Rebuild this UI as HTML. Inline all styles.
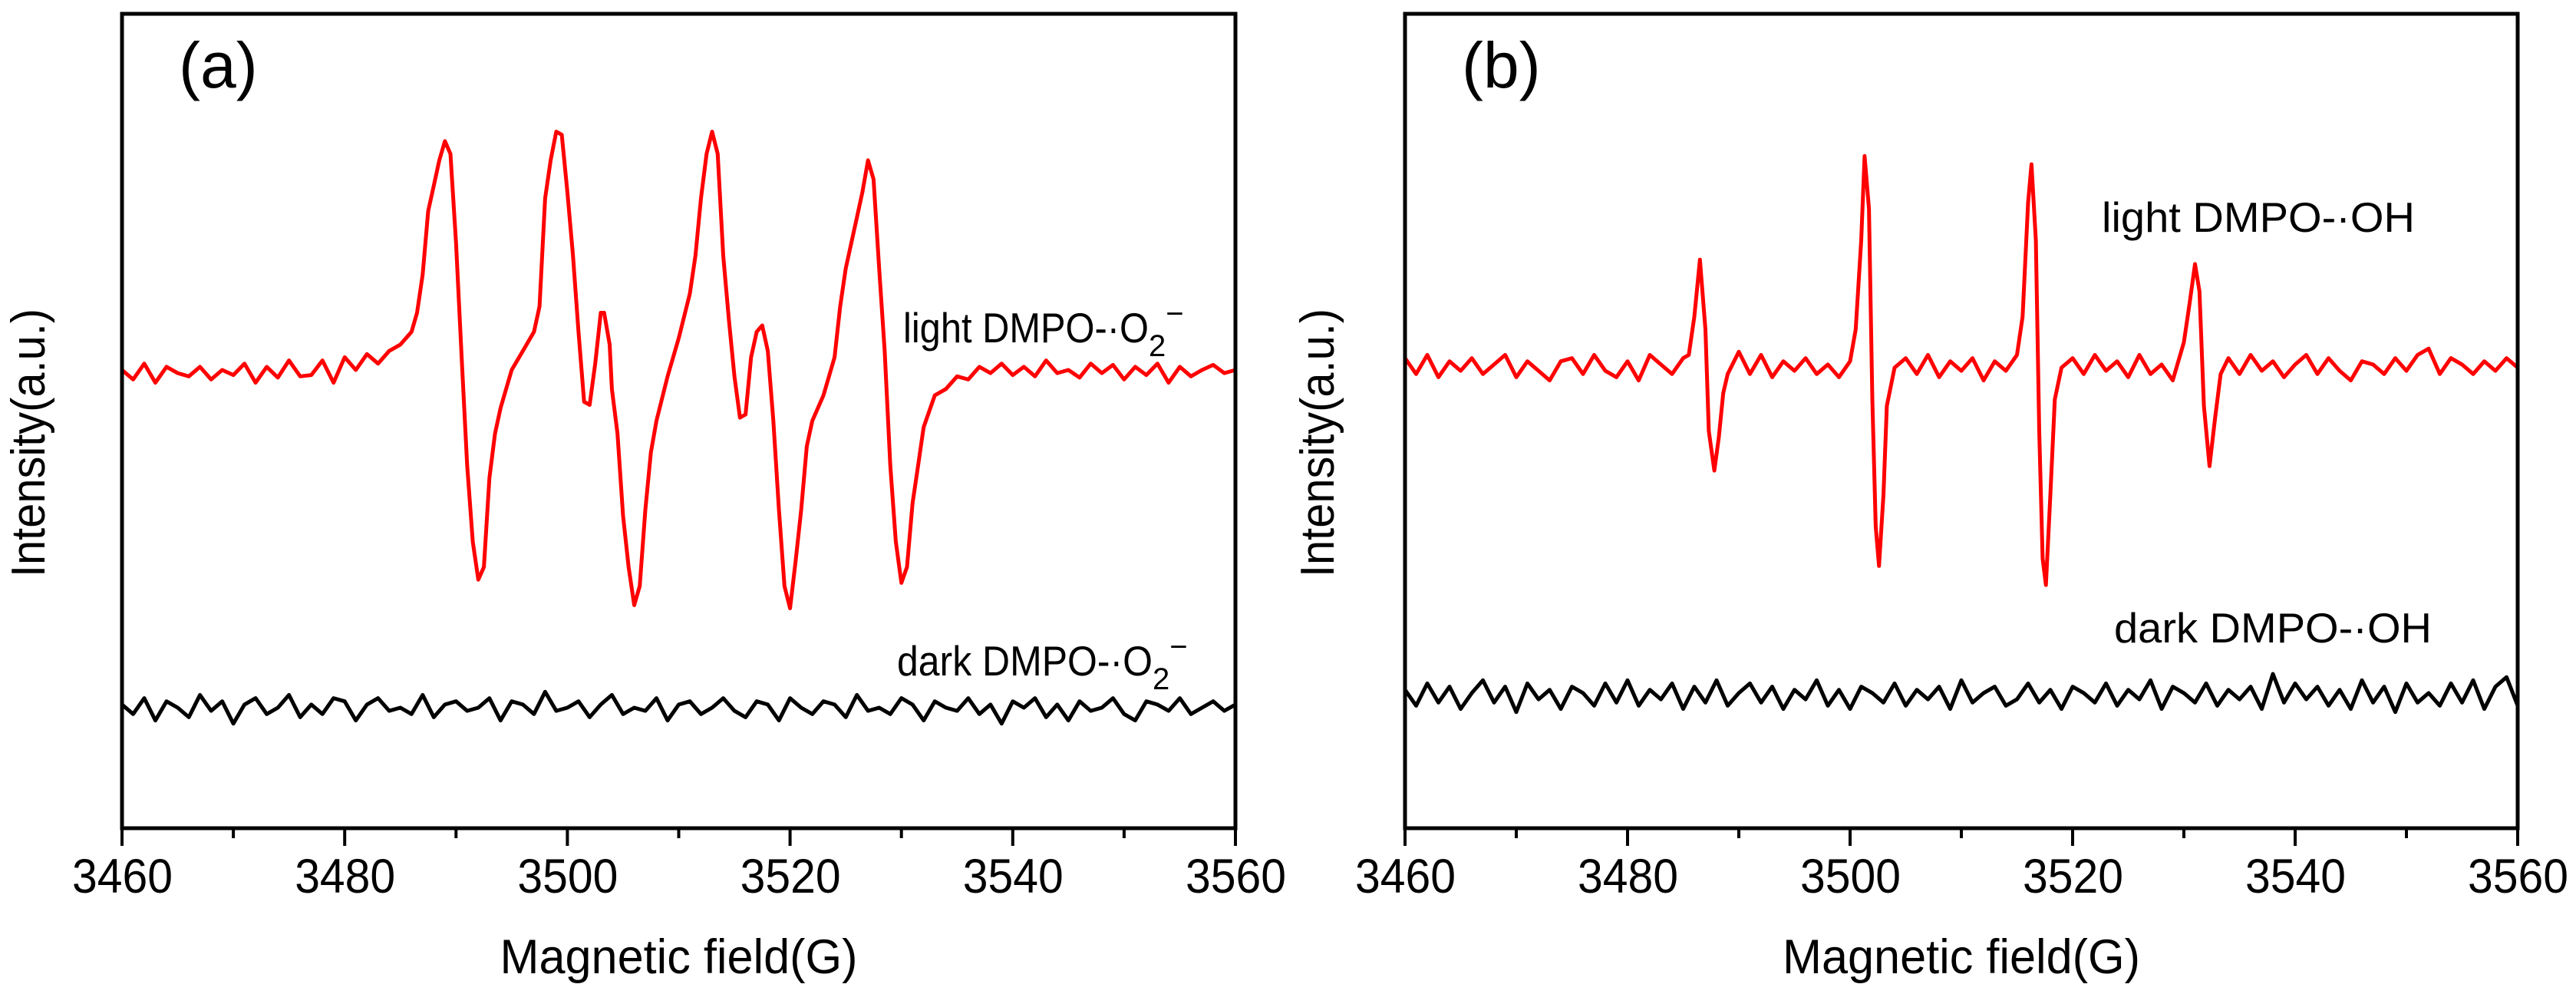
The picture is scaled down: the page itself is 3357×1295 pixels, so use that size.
<!DOCTYPE html>
<html><head><meta charset="utf-8"><style>
html,body{margin:0;padding:0;background:#fff;}
svg{display:block;font-family:"Liberation Sans",sans-serif;}
</style></head><body>
<svg id="fig" width="3357" height="1295" viewBox="0 0 3357 1295" xmlns="http://www.w3.org/2000/svg">
<g id="panelA"></g>
<g id="panelB"></g>
</svg>
<script>
// ---- data (field in G, intensity in arbitrary units) ----
const xTicks = [3460, 3480, 3500, 3520, 3540, 3560];
const xMinor = [3470, 3490, 3510, 3530, 3550];

const lightAField = [3460,3461,3462,3463,3464,3465,3466,3467,3468,3469,3470,3471,3472,3473,3474,3475,3476,3477,3478,3479,3480,3481,3482,3483,3484,3485,3486,3486.5,3487,3487.5,3488,3488.5,3489,3489.5,3490,3490.5,3491,3491.5,3492,3492.5,3493,3493.5,3494,3495,3496,3497,3497.5,3498,3498.5,3499,3499.5,3500,3500.5,3501,3501.5,3502,3502.5,3503,3503.3,3503.8,3504,3504.5,3505,3505.5,3506,3506.5,3507,3507.5,3508,3509,3510,3511,3511.5,3512,3512.5,3513,3513.5,3514,3514.5,3515,3515.5,3516,3516.5,3517,3517.5,3518,3518.5,3519,3519.5,3520,3520.5,3521,3521.5,3522,3523,3524,3524.5,3525,3526,3526.5,3527,3527.5,3528,3528.5,3529,3529.5,3530,3530.5,3531,3531.5,3532,3533,3534,3535,3536,3537,3538,3539,3540,3541,3542,3543,3544,3545,3546,3547,3548,3549,3550,3551,3552,3553,3554,3555,3556,3557,3558,3559,3560];
const lightAValue = [0,-15,10,-20,5,-5,-10,5,-15,0,-8,10,-20,5,-12,15,-10,-8,15,-20,20,0,25,10,30,40,60,90,150,250,290,330,360,340,200,20,-150,-270,-330,-310,-170,-100,-60,0,30,60,100,270,330,375,370,280,180,60,-50,-55,10,90,90,40,-30,-100,-230,-310,-370,-340,-220,-130,-80,-10,50,120,180,270,340,375,340,180,80,-10,-75,-70,20,60,70,30,-80,-220,-340,-375,-300,-220,-120,-80,-40,20,100,160,240,280,330,300,160,30,-150,-270,-335,-310,-210,-150,-90,-40,-30,-10,-15,5,-5,10,-8,5,-10,15,-5,0,-12,10,-5,8,-15,5,-8,10,-20,5,-10,0,8,-5,0];

const darkAValue = [5,-10,15,-20,10,0,-15,20,-5,10,-25,5,15,-10,0,20,-15,5,-10,15,10,-20,5,15,-5,0,-10,20,-15,5,10,-5,0,15,-20,10,5,-10,25,-5,0,10,-15,5,20,-10,0,-5,15,-20,5,10,-10,0,15,-5,-15,10,5,-20,15,0,-10,10,5,-15,20,-5,0,-10,15,5,-20,10,0,-5,15,-10,5,-25,10,0,15,-15,5,-20,10,-5,0,15,-10,-20,10,5,-5,15,-10,0,10,-5,5];

const lightBField = [3460,3461,3462,3463,3464,3465,3466,3467,3468,3469,3470,3471,3472,3473,3474,3475,3476,3477,3478,3479,3480,3481,3482,3483,3484,3485,3485.5,3486,3486.5,3487,3487.3,3487.8,3488.2,3488.6,3489,3490,3491,3492,3493,3494,3495,3496,3497,3498,3499,3500,3500.5,3501,3501.3,3501.7,3502,3502.3,3502.6,3503,3503.3,3504,3505,3506,3507,3508,3509,3510,3511,3512,3513,3514,3515,3515.5,3516,3516.3,3516.7,3517,3517.3,3517.6,3518,3518.4,3519,3520,3521,3522,3523,3524,3525,3526,3527,3528,3529,3530,3530.5,3531,3531.4,3531.8,3532.3,3532.8,3533.3,3534,3535,3536,3537,3538,3539,3540,3541,3542,3543,3544,3545,3546,3547,3548,3549,3550,3551,3552,3553,3554,3555,3556,3557,3558,3559,3560];
const lightBValue = [15,-10,20,-15,10,-5,15,-10,5,20,-15,10,-5,-20,10,15,-10,20,-5,-15,10,-20,20,5,-10,15,20,80,170,60,-100,-162,-110,-40,-10,25,-10,20,-15,10,-5,15,-10,5,-15,10,60,200,333,250,-50,-250,-312,-200,-60,0,15,-10,20,-15,10,-5,15,-20,10,-5,20,80,260,320,200,-100,-300,-342,-200,-50,0,15,-10,20,-5,10,-15,20,-10,5,-20,40,100,163,120,-60,-155,-80,-10,15,-10,20,-5,10,-15,5,20,-10,15,-5,-20,10,5,-10,15,-5,20,30,-10,15,5,-10,10,-5,15,0];

const darkBValue = [10,-15,20,-10,15,-20,5,25,-10,15,-25,20,-5,10,-20,15,5,-15,20,-10,25,-15,10,-5,20,-20,15,-10,25,-15,5,20,-10,15,-20,10,-5,25,-15,10,-20,15,5,-10,20,-15,10,-5,15,-20,25,-10,5,15,-15,-5,20,-10,10,-20,15,5,-10,20,-15,10,-5,25,-20,15,5,-10,20,-15,10,-5,15,-20,35,-10,20,-5,15,-15,10,-20,25,-10,15,-25,20,-10,5,-15,20,-10,25,-20,15,30,-15];

// ---- layout ----
const yTop = 18, yBot = 1079;
const panels = [
  {g:'panelA', x0:159, x1:1610, label:'(a)', ytx:58,
   light:{f:lightAField, v:lightAValue, base:482},
   dark:{v:darkAValue, base:922},
   lightText:{x:1177, y:446, main:'light DMPO-·O', sub:true, len:320},
   darkText:{x:1169, y:880, main:'dark DMPO-·O', sub:true, len:333}},
  {g:'panelB', x0:1831, x1:3281, label:'(b)', ytx:1738,
   light:{f:lightBField, v:lightBValue, base:479},
   dark:{v:darkBValue, base:907},
   lightText:{x:2739, y:302, main:'light DMPO-·OH', sub:false, len:408},
   darkText:{x:2755, y:837, main:'dark DMPO-·OH', sub:false, len:414}}
];
const NS = 'http://www.w3.org/2000/svg';
const vScale = 0.828;
function mk(tag, attrs, parent){const e=document.createElementNS(NS,tag);for(const k in attrs)e.setAttribute(k,attrs[k]);parent.appendChild(e);return e;}

panels.forEach((p,pi)=>{
  const g = document.getElementById(p.g);
  const xs = f => p.x0 + (f-3460)/(100)*(p.x1-p.x0);
  const ys = (v,base) => base - v*vScale;
  let d = p.light.f.map((f,i)=>(i?'L':'M')+xs(f).toFixed(1)+','+ys(p.light.v[i],p.light.base).toFixed(1)).join('');
  const lr = mk('path',{d:d,fill:'none',stroke:'#ff0000','stroke-width':5,'stroke-linejoin':'round'},g);
  
  
  const n = p.dark.v.length;
  d = p.dark.v.map((v,i)=>(i?'L':'M')+xs(3460+i*100/(n-1)).toFixed(1)+','+ys(v,p.dark.base).toFixed(1)).join('');
  const dk = mk('path',{d:d,fill:'none',stroke:'#000','stroke-width':5,'stroke-linejoin':'round'},g);
  
  
  const fr = mk('rect',{x:p.x0,y:yTop,width:p.x1-p.x0,height:yBot-yTop,fill:'none',stroke:'#000','stroke-width':5},g);
  
  
  xTicks.forEach(t=>{
    const l = mk('line',{x1:xs(t),x2:xs(t),y1:yBot,y2:yBot+23,stroke:'#000','stroke-width':4},g);
    
    
    const tx = mk('text',{x:xs(t)-65,y:1163,'font-size':63,textLength:131,lengthAdjust:'spacingAndGlyphs'},g);
    tx.textContent = t;
    
    
  });
  xMinor.forEach(t=>{
    const l = mk('line',{x1:xs(t),x2:xs(t),y1:yBot,y2:yBot+13,stroke:'#000','stroke-width':4},g);
    
    
  });
  const xt = mk('text',{x:(p.x0+p.x1)/2-233,y:1268,'font-size':63,textLength:466,lengthAdjust:'spacingAndGlyphs'},g);
  xt.textContent = 'Magnetic field(G)';
  
  
  const yt = mk('text',{x:-175,y:0,'font-size':62,textLength:350,lengthAdjust:'spacingAndGlyphs',transform:'translate('+p.ytx+',577) rotate(-90)'},g);
  yt.textContent = 'Intensity(a.u.)';
  
  
  const pl = mk('text',{x:p.x0+74,y:114,'font-size':84},g);
  pl.textContent = p.label;
  
  
  [['lightText','light-series-label'],['darkText','dark-series-label']].forEach(([k,name])=>{
    const s = p[k];
    const t = mk('text',{x:s.x,y:s.y,'font-size':55},g);
    
    
    const m = mk('tspan',{textLength:s.len,lengthAdjust:'spacingAndGlyphs'},t);
    m.textContent = s.main;
    if(s.sub){
      const a = mk('tspan',{'font-size':40,dy:18},t); a.textContent='2';
      const b = mk('tspan',{'font-size':40,dy:-42},t); b.textContent='−';
    }
  });
});
</script>
</body></html>
